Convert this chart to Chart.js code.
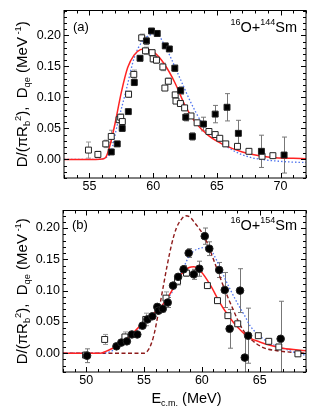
<!DOCTYPE html>
<html>
<head>
<meta charset="utf-8">
<script src="https://cdn.jsdelivr.net/npm/chart.js@4.4.1/dist/chart.umd.min.js"></script>
<style>
  html, body { margin: 0; padding: 0; background: #fff; }
  canvas { display: block; }
</style>
</head>
<body>
<canvas id="chartA" width="316" height="200"></canvas>
<canvas id="chartB" width="316" height="216"></canvas>
<script>
// tick labels
const aXTicks = [55, 60, 65, 70];
const bXTicks = [50, 55, 60, 65];
const yTicks = [0, 0.05, 0.10, 0.15, 0.20];

// (a) 16O+144Sm - open squares (D_qe)
const aOpenX = [54.92, 55.66, 56.28, 56.71, 57.33, 57.45, 57.58, 58.07, 58.48, 59.1, 59.4, 59.92, 60.0, 60.26, 60.76, 60.92, 61.19, 61.73, 61.79, 62.14, 62.47, 62.97, 63.45, 64.38, 64.87, 65.23, 65.7, 66.62, 67.52, 68.55, 69.4];
const aOpenY = [0.015, 0.008, 0.025, 0.037, 0.064, 0.068, 0.061, 0.105, 0.137, 0.196, 0.175, 0.172, 0.162, 0.160, 0.149, 0.115, 0.126, 0.104, 0.094, 0.090, 0.083, 0.070, 0.059, 0.045, 0.040, 0.034, 0.025, 0.021, 0.013, 0.005, 0.006];
const aOpenErr = [0.013, 0.005, 0.006, 0.01, 0.005, 0.005, 0.005, 0.005, 0.007, 0.006, 0.006, 0.005, 0.005, 0.005, 0.006, 0.004, 0.005, 0.004, 0.004, 0.004, 0.004, 0.003, 0.003, 0.003, 0.003, 0.003, 0.003, 0.004, 0.003, 0.003, 0.002];
// (a) filled squares (D fusion)
const aFillX = [56.71, 57.18, 57.57, 58.05, 58.52, 58.97, 59.47, 59.87, 60.32, 60.95, 61.27, 61.7, 62.16, 62.56, 63.08, 63.95, 64.87, 65.8, 66.69, 68.5, 70.28];
const aFillY = [0.012, 0.025, 0.050, 0.077, 0.124, 0.163, 0.191, 0.207, 0.203, 0.183, 0.178, 0.147, 0.111, 0.068, 0.037, 0.057, 0.073, 0.084, 0.042, 0.013, 0.007];
const aFillErr = [0.004, 0.004, 0.005, 0.004, 0.005, 0.004, 0.006, 0.004, 0.004, 0.004, 0.004, 0.005, 0.006, 0.006, 0.006, 0.011, 0.014, 0.022, 0.021, 0.026, 0.029];
// (a) calculations
const aRedX = [53, 55.5, 56.0, 56.3, 56.6, 57.0, 57.5, 58.0, 58.5, 59.0, 59.4, 60.1, 60.9, 61.7, 62.5, 63.3, 64.3, 65.4, 67.0, 69.0, 72];
const aRedY = [0, 0, 0.0005, 0.004, 0.022, 0.057, 0.108, 0.148, 0.168, 0.177, 0.178, 0.172, 0.153, 0.124, 0.087, 0.060, 0.039, 0.025, 0.012, 0.004, 0.001];
const aBlueX = [53, 55.5, 56.2, 56.7, 57.2, 57.9, 58.5, 59.2, 59.7, 60.25, 60.8, 61.45, 62.25, 63.0, 63.8, 64.9, 66.4, 67.5, 68.5, 70.6, 72];
const aBlueY = [0, 0, 0.002, 0.013, 0.057, 0.113, 0.163, 0.192, 0.200, 0.203, 0.188, 0.161, 0.124, 0.090, 0.060, 0.034, 0.013, 0.004, 0.000, -0.004, -0.005];

// (b) 16O+154Sm - filled circles
const bCircX = [50.08, 52.62, 53.04, 53.52, 53.95, 54.42, 54.87, 55.3, 55.72, 56.15, 56.25, 56.62, 57.05, 57.51, 57.95, 58.42, 58.86, 59.3, 59.78, 60.25, 60.64, 61.5, 61.98, 62.4, 63.3, 63.71, 64.0, 66.81];
const bCircY = [-0.004, 0.011, 0.017, 0.019, 0.030, 0.030, 0.044, 0.054, 0.059, 0.074, 0.068, 0.071, 0.081, 0.108, 0.122, 0.134, 0.160, 0.126, 0.135, 0.187, 0.167, 0.133, 0.101, 0.039, 0.100, -0.007, 0.028, 0.023];
const bCircErr = [0.011, 0.004, 0.004, 0.004, 0.004, 0.004, 0.004, 0.004, 0.004, 0.004, 0.004, 0.005, 0.008, 0.005, 0.005, 0.006, 0.007, 0.008, 0.012, 0.013, 0.011, 0.012, 0.028, 0.031, 0.035, 0.038, 0.044, 0.060];
// (b) open squares
const bOpenX = [49.95, 51.6, 53.35, 55.15, 56.9, 57.9, 58.67, 60.48, 61.35, 62.25, 63.1, 64.88, 65.78, 66.65, 68.3];
const bOpenY = [-0.003, 0.022, 0.026, 0.054, 0.088, 0.115, 0.128, 0.108, 0.084, 0.060, 0.047, 0.028, 0.019, 0.010, -0.001];
const bOpenErr = [0.005, 0.008, 0.008, 0.010, 0.010, 0.006, 0.005, 0.004, 0.004, 0.004, 0.004, 0.003, 0.003, 0.003, 0.003];
// (b) calculations
const bRedX = [48, 51.2, 51.7, 52.3, 53.0, 53.6, 54.2, 55.0, 55.6, 56.3, 56.8, 57.6, 58.0, 58.45, 58.9, 59.3, 59.9, 60.7, 61.55, 62.1, 62.7, 63.5, 64.1, 65.0, 65.8, 67.0, 69];
const bRedY = [0, 0, 0.003, 0.008, 0.015, 0.024, 0.035, 0.050, 0.060, 0.071, 0.082, 0.106, 0.120, 0.131, 0.137, 0.138, 0.131, 0.110, 0.081, 0.065, 0.050, 0.034, 0.025, 0.018, 0.013, 0.008, 0.004];
const bBlueX = [48, 51.3, 52.0, 53.0, 54.1, 55.0, 56.0, 56.9, 57.5, 58.0, 58.5, 58.9, 59.3, 59.7, 60.4, 60.8, 61.1, 61.5, 62.0, 62.5, 63.1, 63.7, 64.2, 65.3, 66.0, 67.0, 68.6, 69];
const bBlueY = [0, 0, 0.002, 0.012, 0.030, 0.046, 0.064, 0.084, 0.100, 0.120, 0.140, 0.155, 0.163, 0.167, 0.169, 0.165, 0.155, 0.140, 0.119, 0.100, 0.079, 0.060, 0.043, 0.023, 0.015, 0.008, -0.002, -0.003];
const bDashX = [48, 55.0, 55.4, 55.8, 56.2, 56.6, 57.0, 57.4, 57.8, 58.2, 58.6, 59.0, 59.4, 60.0, 60.3, 60.6, 61.0, 61.4, 61.8, 62.3, 62.7, 63.1, 63.6, 64.2, 65.3, 66.5, 69];
const bDashY = [0, 0, 0.006, 0.025, 0.060, 0.100, 0.140, 0.175, 0.200, 0.213, 0.2195, 0.217, 0.208, 0.193, 0.183, 0.170, 0.150, 0.130, 0.110, 0.087, 0.070, 0.053, 0.036, 0.023, 0.009, 0.004, 0];

const FONT = '"Liberation Sans", Arial, sans-serif';
const pts = (xs, ys) => xs.map((x, i) => ({ x: x, y: ys[i] }));

// rich text: segments with s = 1 (superscript), -1 (subscript), 0 normal
function segFont(seg, size) {
  return (seg.s ? size * 0.62 : size) + 'px ' + FONT;
}
function richWidth(ctx, segs, size) {
  let w = 0;
  segs.forEach(seg => { ctx.font = segFont(seg, size); w += ctx.measureText(seg.t).width; });
  return w;
}
function drawRich(ctx, segs, x, y, size) {
  segs.forEach(seg => {
    ctx.font = segFont(seg, size);
    const dy = seg.s === 1 ? -size * 0.42 : seg.s === -1 ? size * 0.22 : 0;
    ctx.fillText(seg.t, x, y + dy);
    x += ctx.measureText(seg.t).width;
  });
}

const yTitle = [
  { t: 'D/(\u03c0R' }, { t: 'b', s: -1 }, { t: '2', s: 1 }, { t: '),  D' }, { t: 'qe', s: -1 },
  { t: ' (MeV' }, { t: ' -1', s: 1 }, { t: ')' }
];

// inward ticks + box
const framePlugin = {
  id: 'frame',
  afterDraw(chart) {
    const { ctx, chartArea: a, scales: { x, y } } = chart;
    ctx.save();
    ctx.strokeStyle = '#000';
    ctx.lineWidth = 1;
    ctx.strokeRect(a.left, a.top, a.right - a.left, a.bottom - a.top);
    ctx.beginPath();
    for (let v = Math.ceil(x.min); v <= x.max; v++) {
      const px = Math.round(x.getPixelForValue(v)) + 0.5;
      const len = v % 5 === 0 ? 5 : 3;
      ctx.moveTo(px, a.bottom); ctx.lineTo(px, a.bottom - len);
      ctx.moveTo(px, a.top); ctx.lineTo(px, a.top + len);
    }
    for (let k = Math.ceil(y.min * 100); k <= Math.floor(y.max * 100); k++) {
      const py = Math.round(y.getPixelForValue(k / 100)) + 0.5;
      const len = k % 5 === 0 ? 5 : 3;
      ctx.moveTo(a.left, py); ctx.lineTo(a.left + len, py);
      ctx.moveTo(a.right, py); ctx.lineTo(a.right - len, py);
    }
    ctx.stroke();
    ctx.restore();
  }
};

// vertical error bars drawn under the markers
const errorBarPlugin = {
  id: 'errorBars',
  beforeDatasetsDraw(chart) {
    const { ctx, chartArea: a, scales: { x, y } } = chart;
    ctx.save();
    ctx.beginPath();
    ctx.rect(a.left, a.top, a.right - a.left, a.bottom - a.top);
    ctx.clip();
    chart.data.datasets.forEach(ds => {
      if (!ds.errors) return;
      ctx.strokeStyle = ds.errorColor;
      ctx.lineWidth = 1;
      ds.data.forEach((p, i) => {
        const e = ds.errors[i];
        const px = Math.round(x.getPixelForValue(p.x)) + 0.5;
        const y1 = y.getPixelForValue(p.y + e);
        const y2 = y.getPixelForValue(p.y - e);
        ctx.beginPath();
        ctx.moveTo(px, y1); ctx.lineTo(px, y2);
        ctx.moveTo(px - 2.5, y1); ctx.lineTo(px + 2.5, y1);
        ctx.moveTo(px - 2.5, y2); ctx.lineTo(px + 2.5, y2);
        ctx.stroke();
      });
    });
    ctx.restore();
  }
};

// panel tag, reaction label and axis titles
const textPlugin = {
  id: 'texts',
  afterDraw(chart, args, opts) {
    const { ctx, chartArea: a } = chart;
    ctx.save();
    ctx.fillStyle = '#000';
    ctx.textBaseline = 'alphabetic';
    ctx.font = '13px ' + FONT;
    ctx.fillText(opts.tag, a.left + 9, a.top + opts.tagY);

    const sys = [{ t: '16', s: 1 }, { t: 'O+' }, { t: opts.mass, s: 1 }, { t: 'Sm' }];
    const w = richWidth(ctx, sys, 14.5);
    drawRich(ctx, sys, a.right - 9 - w, a.top + opts.tagY + 1, 14.5);

    // rotated y title
    const tw = richWidth(ctx, yTitle, 15);
    ctx.save();
    ctx.translate(opts.yTitleX, (a.top + a.bottom) / 2 + opts.yTitleShift);
    ctx.rotate(-Math.PI / 2);
    drawRich(ctx, yTitle, -tw / 2, 0, 15);
    ctx.restore();

    if (opts.xTitle) {
      const xt = [{ t: 'E' }, { t: 'c.m.', s: -1 }, { t: ' (MeV)' }];
      const xw = richWidth(ctx, xt, 14.5);
      drawRich(ctx, xt, (a.left + a.right) / 2 - xw / 2 + 2, a.bottom + 31, 14.5);
    }
    ctx.restore();
  }
};

function markerSet(data, errors, style, fill, radius, errColor) {
  return {
    data: data, errors: errors, errorColor: errColor,
    showLine: false, pointStyle: style, pointRadius: radius, pointHoverRadius: radius,
    backgroundColor: fill, borderColor: '#222', borderWidth: 1
  };
}
function curveSet(data, color, dash, width) {
  return {
    data: data, showLine: true, pointRadius: 0, borderColor: color, borderWidth: width,
    borderDash: dash, cubicInterpolationMode: 'monotone', fill: false
  };
}

function makeChart(id, cfg) {
  new Chart(document.getElementById(id), {
    type: 'scatter',
    data: { datasets: cfg.datasets },
    options: {
      responsive: false,
      animation: false,
      layout: { padding: { left: 0, top: cfg.top, right: 10, bottom: 0 } },
      plugins: { legend: { display: false }, tooltip: { enabled: false }, texts: cfg.texts },
      scales: {
        x: {
          type: 'linear', min: cfg.xMin, max: cfg.xMax,
          grid: { display: false, drawTicks: false }, border: { display: false },
          afterBuildTicks: s => { s.ticks = cfg.xTicks.map(v => ({ value: v })); },
          afterFit: s => { s.height = cfg.xHeight; },
          ticks: { color: '#000', font: { family: FONT, size: 12.5 }, padding: 1, maxRotation: 0 }
        },
        y: {
          type: 'linear', min: -0.03, max: cfg.yMax,
          grid: { display: false, drawTicks: false }, border: { display: false },
          afterBuildTicks: s => { s.ticks = yTicks.map(v => ({ value: v })); },
          afterFit: s => { s.width = cfg.yWidth; },
          ticks: { color: '#000', font: { family: FONT, size: 12.5 }, padding: 3,
                   callback: v => v.toFixed(2) }
        }
      }
    },
    plugins: [errorBarPlugin, framePlugin, textPlugin]
  });
}

makeChart('chartA', {
  xMin: 53, xMax: 72, yMax: 0.24, xTicks: aXTicks, top: 7, xHeight: 22, yWidth: 64,
  texts: { tag: '(a)', mass: '144', tagY: 20, yTitleX: 27, yTitleShift: 0 },
  datasets: [
    markerSet(pts(aFillX, aFillY), aFillErr, 'rect', '#000', 4.2, '#777'),
    markerSet(pts(aOpenX, aOpenY), aOpenErr, 'rect', '#fff', 4.2, '#999'),
    curveSet(pts(aRedX, aRedY), '#ff2323', [], 1.5),
    curveSet(pts(aBlueX, aBlueY), '#4f73ee', [1.5, 2], 1.3)
  ]
});

makeChart('chartB', {
  xMin: 48, xMax: 69, yMax: 0.228, xTicks: bXTicks, top: 3, xHeight: 44, yWidth: 63,
  texts: { tag: '(b)', mass: '154', tagY: 18, yTitleX: 27, yTitleShift: 0, xTitle: true },
  datasets: [
    markerSet(pts(bCircX, bCircY), bCircErr, 'circle', '#000', 3.8, '#777'),
    markerSet(pts(bOpenX, bOpenY), bOpenErr, 'rect', '#fff', 4.2, '#999'),
    curveSet(pts(bRedX, bRedY), '#ff2323', [], 1.5),
    curveSet(pts(bBlueX, bBlueY), '#4f73ee', [1.5, 2], 1.3),
    curveSet(pts(bDashX, bDashY), '#8e1b1b', [4, 2.5], 1.4)
  ]
});
</script>
</body>
</html>
